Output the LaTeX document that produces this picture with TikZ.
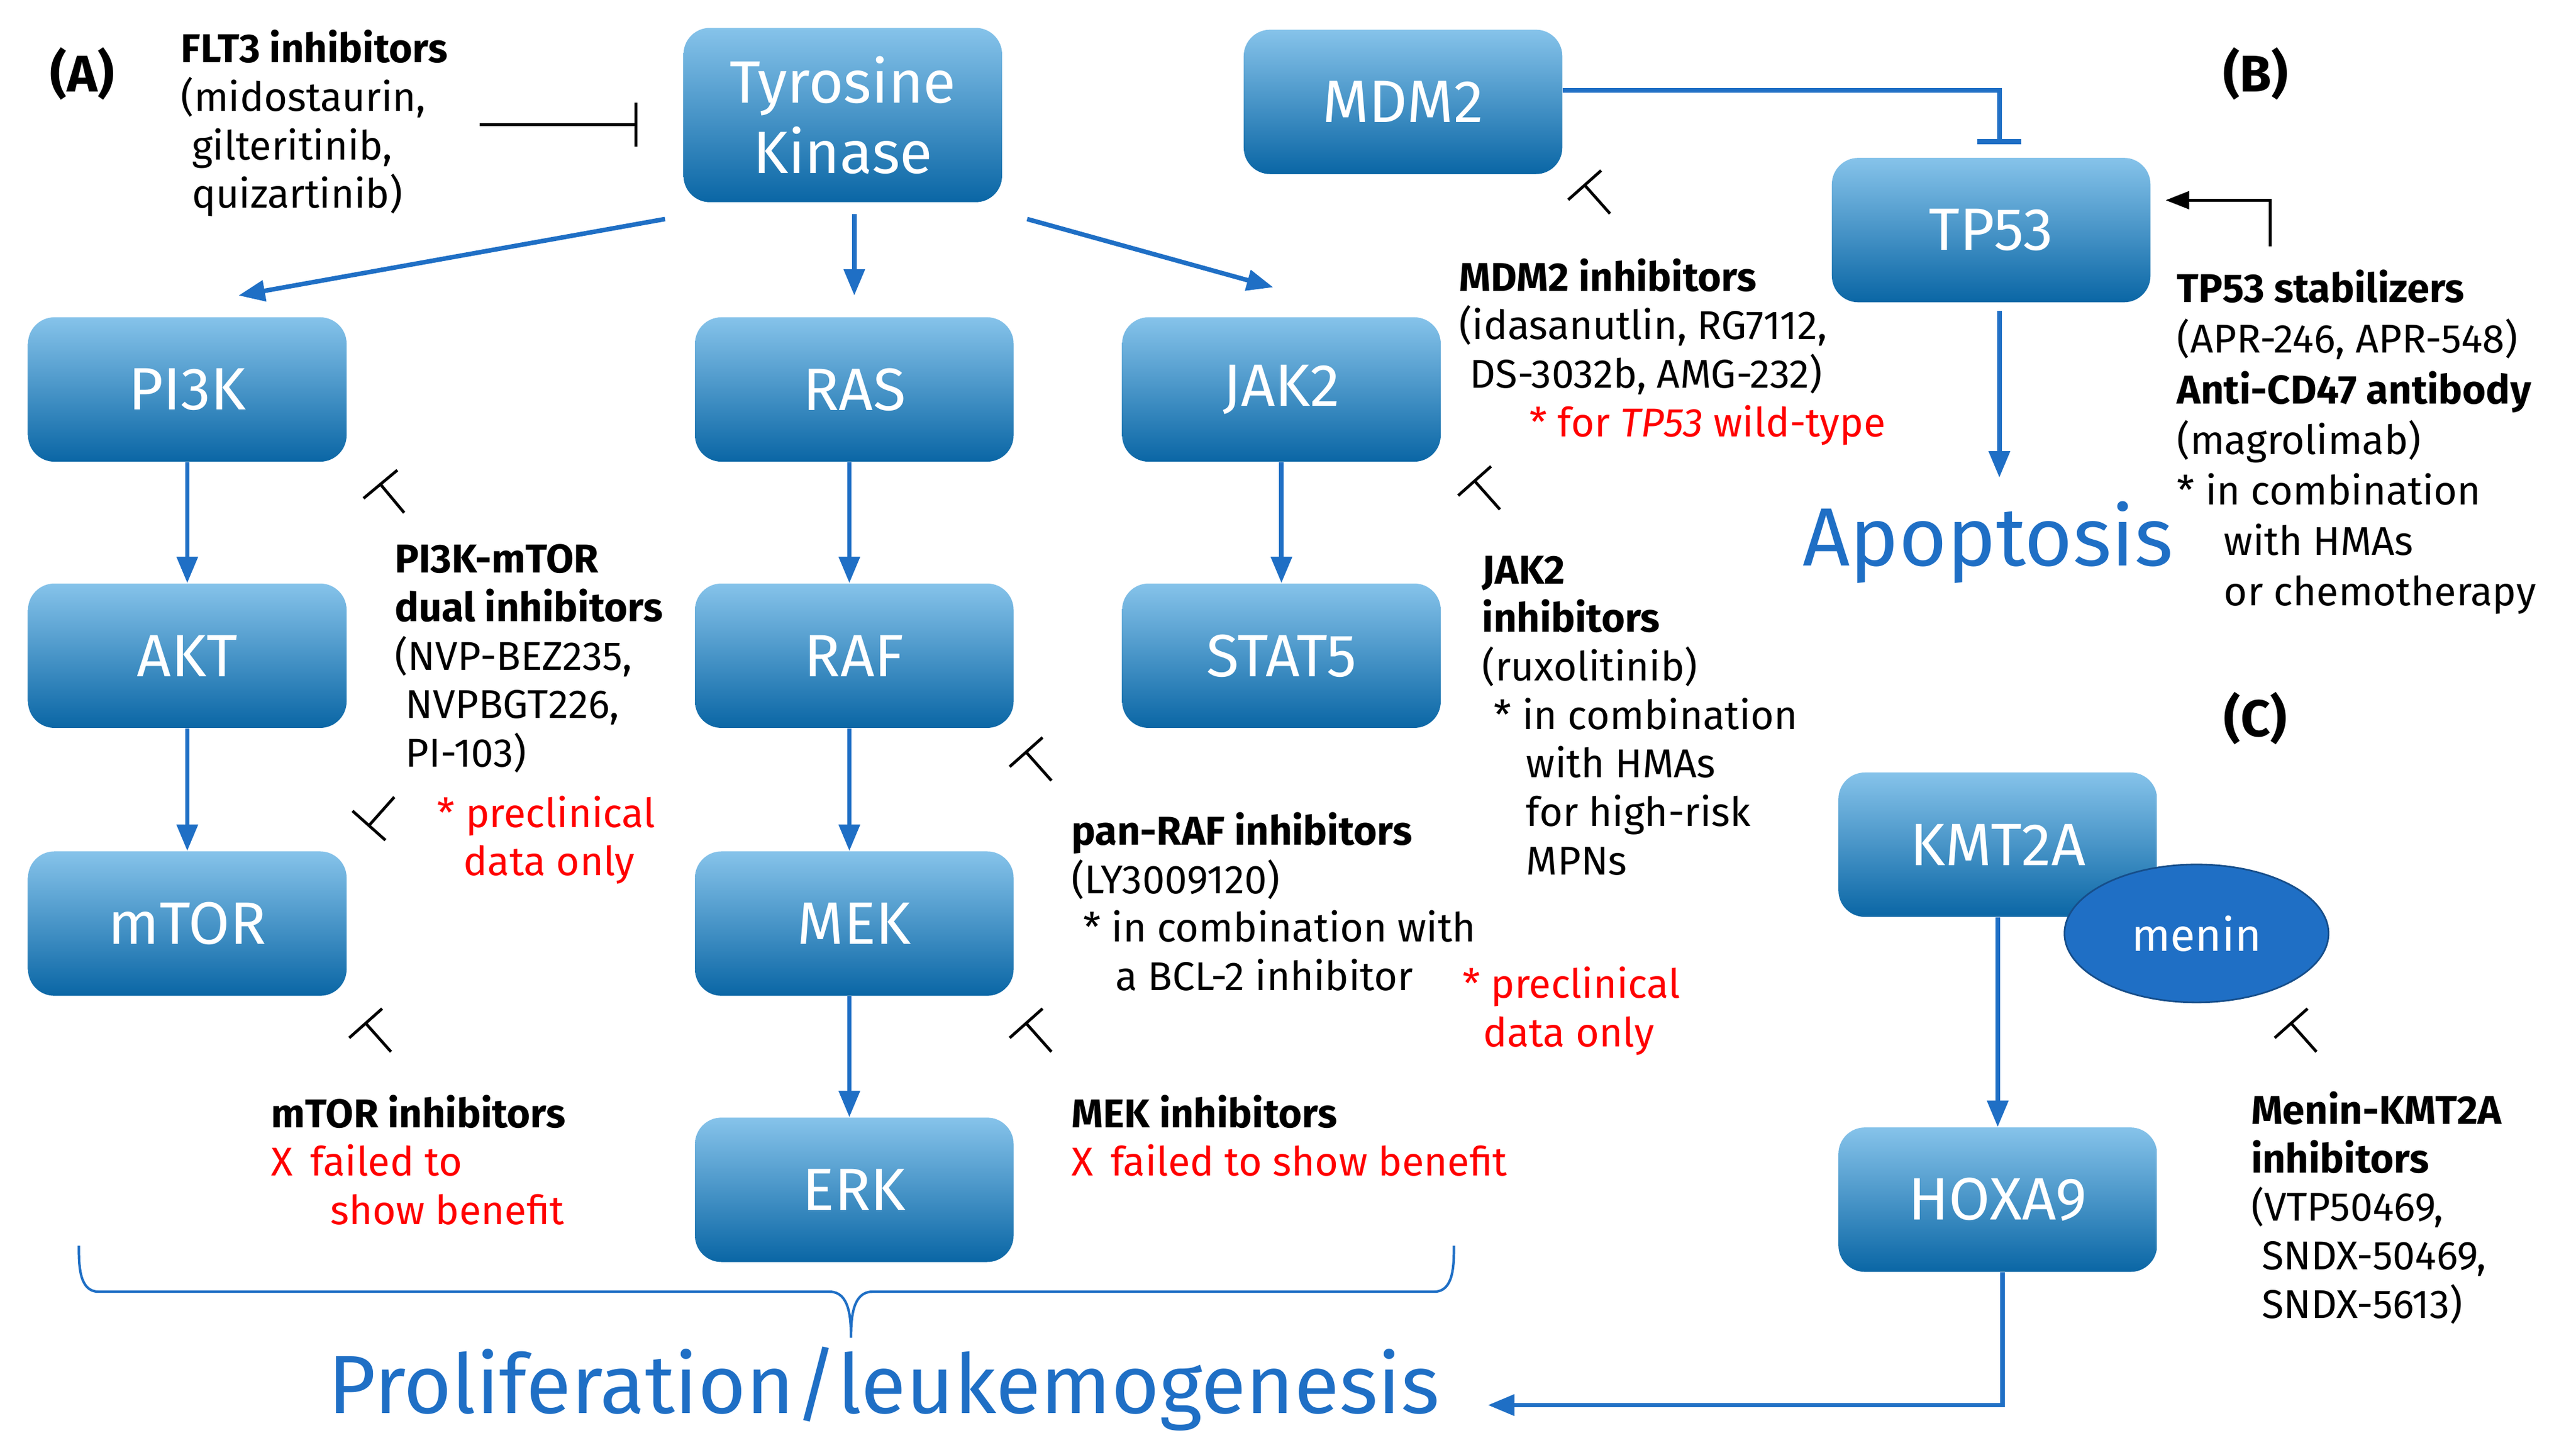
\documentclass[tikz,border=0pt]{standalone}
\usepackage{fontspec}
\setmainfont{Fira Sans}
\usetikzlibrary{arrows.meta,calc,shapes.geometric}
\definecolor{arrblue}{HTML}{1F6FC5}
\definecolor{boxtop}{HTML}{86C3EA}
\definecolor{boxbot}{HTML}{0A66A5}
\begin{document}
\begin{tikzpicture}[x=0.028cm,y=-0.028cm,
  box/.style={rounded corners=0.45cm,top color=boxtop,bottom color=boxbot,draw=none,
    minimum width=5.43cm,minimum height=2.46cm,text=white,font=\fontsize{29}{34}\selectfont,align=center},
  arr/.style={arrblue,line width=2.2pt,-{Triangle[length=0.45cm,width=0.35cm]}},
  inh/.style={black,line width=1.4pt,-{Bar[width=0.75cm,line width=1.4pt]}},
  txt/.style={anchor=north west,align=left,inner sep=0pt,font=\fontsize{19.5}{23.5}\selectfont},
  red/.style={text=red}]
\useasboundingbox (0,0) rectangle (1568,882);
% boxes
\node[box,minimum height=2.97cm] (tk) at (513,70) {Tyrosine\\Kinase};
\node[box] (mdm2) at (854,62) {MDM2};
\node[box] (tp53) at (1212,140) {TP53};
\node[box] (pi3k) at (114,237) {PI3K};
\node[box] (ras) at (520,237) {RAS};
\node[box] (jak2) at (780,237) {JAK2};
\node[box] (akt) at (114,399) {AKT};
\node[box] (raf) at (520,399) {RAF};
\node[box] (stat5) at (780,399) {STAT5};
\node[box] (mtor) at (114,562) {mTOR};
\node[box] (mek) at (520,562) {MEK};
\node[box] (erk) at (520,724) {ERK};
\node[box] (kmt) at (1216,514) {KMT2A};
\node[box] (hox) at (1216,730) {HOXA9};
\node[ellipse,fill=arrblue,draw=arrblue!70!black,line width=0.8pt,minimum width=4.5cm,minimum height=2.35cm,text=white,font=\fontsize{22}{26}\selectfont] (menin) at (1337,568) {menin};
% big labels
\node[font=\fontsize{25}{28}\selectfont\bfseries] (la) at (50,45) {(A)};
\node[font=\fontsize{25}{28}\selectfont\bfseries] (lb) at (1373,45) {(B)};
\node[font=\fontsize{25}{28}\selectfont\bfseries] (lc) at (1373,437) {(C)};
\node[text=arrblue,font=\fontsize{40}{46}\selectfont] (apo) at (1210,330) {Apoptosis};
\node[text=arrblue,font=\fontsize{40}{46}\selectfont] (prol) at (538,845) {Proliferation/leukemogenesis};
% arrows
\draw[arr] ($(tk.south west)+(-11,10)$) -- ($(pi3k.north east)+(-66,-13)$);
\draw[arr] ($(tk.south)+(7,7)$) -- ($(ras.north)+(0,-13)$);
\draw[arr] ($(tk.south east)+(15,10)$) -- ($(jak2.north)+(-5,-18)$);
\draw[arr] (pi3k) -- (akt);
\draw[arr] (akt) -- (mtor);
\draw[arr] ($(ras.south)+(-3,0)$) -- ($(raf.north)+(-3,0)$);
\draw[arr] ($(raf.south)+(-3,0)$) -- ($(mek.north)+(-3,0)$);
\draw[arr] ($(mek.south)+(-3,0)$) -- ($(erk.north)+(-3,0)$);
\draw[arr] (jak2) -- (stat5);
\draw[arr] ($(tp53.south)+(5,5)$) -- ($(apo.north)+(7,-10)$);
\draw[arr] ($(kmt.south)+(0,0)$) -- (hox);
\draw[arr] ($(hox.south)+(3,0)$) |- ($(prol.east)+(25,10)$);
\draw[arrblue,line width=2.2pt,-{Bar[width=0.75cm,line width=2.5pt]}] (mdm2.east |- 0,55) -| ($(tp53.north)+(5,-8)$);
\coordinate (st) at (1382,150);
\draw[black,line width=1.4pt,-{Triangle[length=0.4cm,width=0.3cm]}] (st) |- ($(tp53.north east)+(9,26)$);
% brace
\coordinate (bl) at (48,758); \coordinate (br) at (885,758); \coordinate (bt) at (518,814);
\draw[arrblue,line width=1.2pt] (bl) to[out=90+180,in=180] (60,786) -- (505,786) to[out=0,in=90] (bt)
  (bt) to[out=90,in=180] (531,786) -- (873,786) to[out=0,in=270] (br);
% inhibition marks
\coordinate (f1) at (292,76); \coordinate (f2) at (388,76);
\draw[inh] (f1) -- (f2);
\foreach \n/\ax/\ay/\bx/\by in {p/246/312/231/294, t/238/640/222/622, r/640/475/624/457, m/640/640/624/622, j/913/310/897/292, d/980/130/964/112, n/1410/640/1394/622}{
  \coordinate (\n1) at (\ax,\ay); \coordinate (\n2) at (\bx,\by);
  \draw[inh] (\n1) -- (\n2);}
\coordinate (q1) at (240,485); \coordinate (q2) at (224,503);
\draw[inh] (q1) -- (q2);
% texts
\node[txt] (tflt) at (110,18) {\textbf{FLT3 inhibitors}\\(midostaurin,\\ \ gilteritinib,\\ \ quizartinib)};
\node[txt] (tmdm) at (888,157) {\textbf{MDM2 inhibitors}\\(idasanutlin, RG7112,\\ \ DS-3032b, AMG-232)\\ \hspace{1.2cm}\textcolor{red}{* for \textit{TP53} wild-type}};
\node[txt,font=\fontsize{19.5}{24.5}\selectfont] (ttp) at (1325,164) {\textbf{TP53 stabilizers}\\(APR-246, APR-548)\\\textbf{Anti-CD47 antibody}\\(magrolimab)\\* in combination\\\hspace{0.8cm}with HMAs\\\hspace{0.8cm}or chemotherapy};
\node[txt] (tpi) at (240,331) {\textbf{PI3K-mTOR}\\\textbf{dual inhibitors}\\(NVP-BEZ235,\\ \ NVPBGT226,\\ \ PI-103)};
\node[txt,red] (tpir) at (266,484) {* preclinical\\\hspace{0.45cm}data only};
\node[txt] (tjak) at (902,338) {\textbf{JAK2}\\\textbf{inhibitors}\\(ruxolitinib)\\\hspace{0.2cm}* in combination\\\hspace{0.75cm}with HMAs\\\hspace{0.75cm}for high-risk\\\hspace{0.75cm}MPNs};
\node[txt] (traf) at (652,494) {\textbf{pan-RAF inhibitors}\\(LY3009120)\\\hspace{0.2cm}* in combination with\\\hspace{0.75cm}a BCL-2 inhibitor};
\node[txt,red] (trafr) at (890,588) {* preclinical\\\hspace{0.35cm}data only};
\node[txt] (tmt) at (165,666) {\textbf{mTOR inhibitors}\\\textcolor{red}{X\hspace{0.3cm}failed to}\\\textcolor{red}{\hspace{1cm}show benefit}};
\node[txt] (tmek) at (652,666) {\textbf{MEK inhibitors}\\\textcolor{red}{X\hspace{0.3cm}failed to show benefit}};
\node[txt] (tmen) at (1370,664) {\textbf{Menin-KMT2A}\\\textbf{inhibitors}\\(VTP50469,\\ \ SNDX-50469,\\ \ SNDX-5613)};
\end{tikzpicture}
\end{document}
